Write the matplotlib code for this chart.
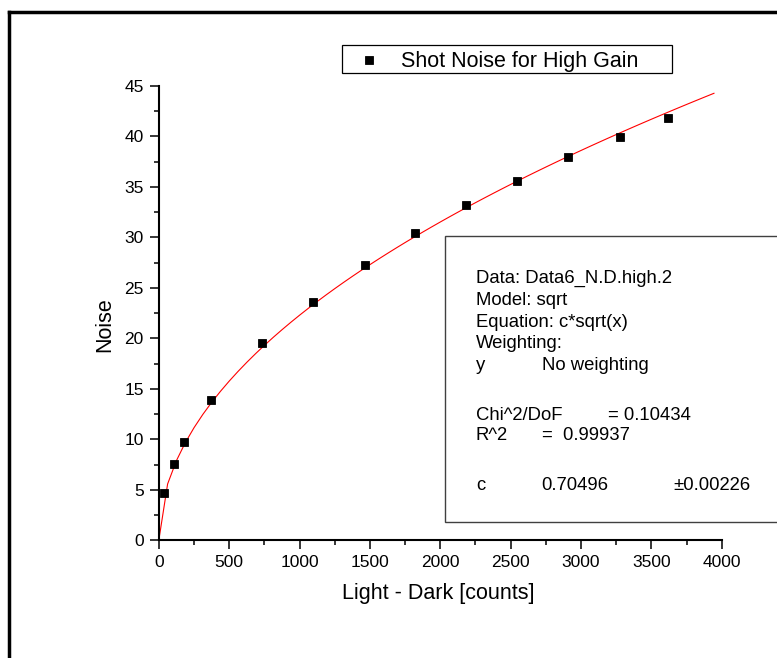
import numpy as np
import matplotlib
matplotlib.use("Agg")
import matplotlib.pyplot as plt
from matplotlib.lines import Line2D
from matplotlib.patches import Rectangle
from matplotlib.ticker import MultipleLocator

# Measured shot noise (high gain)
light_minus_dark = [35, 111, 182, 369, 730, 1096, 1463, 1819, 2183, 2544, 2908, 3277, 3621]
noise = [4.65, 7.59, 9.77, 13.87, 19.57, 23.61, 27.24, 30.41, 33.25, 35.59, 37.94, 39.98, 41.86]

# Fit result: noise = c * sqrt(x)
fit_c = 0.70496
fit_c_err = 0.00226
fit_chi2_dof = 0.10434
fit_r2 = 0.99937
fit_x_max = 3945

series_label = "Shot Noise for High Gain"
x_label = "Light - Dark [counts]"
y_label = "Noise"

plt.rcParams["font.family"] = ["Liberation Sans", "DejaVu Sans"]

W, H = 777, 658
fig = plt.figure(figsize=(W / 100, H / 100), dpi=100)
fig.patch.set_facecolor("white")


def fx(px):
    return px / W


def fy(py):
    return 1 - py / H


# axes box in pixel terms: left 158.8, right 721.7, top 86, bottom 540.3
ax = fig.add_axes([fx(158.8), fy(540.3), (721.7 - 158.8) / W, (540.3 - 86) / H])

fit_x = np.linspace(0, fit_x_max, 64)
fit_y = fit_c * np.sqrt(fit_x)
ax.plot(fit_x, fit_y, color="#ff0000", lw=0.8, zorder=2, clip_on=False)
ax.plot(light_minus_dark, noise, ls="none", marker="s", ms=6.3,
        mfc="black", mec="black", mew=0.6, zorder=3, clip_on=False)

ax.set_xlim(0, 4000)
ax.set_ylim(0, 45)
ax.xaxis.set_major_locator(MultipleLocator(500))
ax.xaxis.set_minor_locator(MultipleLocator(250))
ax.yaxis.set_major_locator(MultipleLocator(5))
ax.yaxis.set_minor_locator(MultipleLocator(2.5))

for side in ("top", "right"):
    ax.spines[side].set_visible(False)
for side in ("left", "bottom"):
    ax.spines[side].set_linewidth(1.5)
    ax.spines[side].set_color("black")

ax.tick_params(which="major", direction="out", length=6.8, width=1.1,
               labelsize=12.5, colors="black")
ax.tick_params(which="minor", direction="out", length=3.6, width=1.1)
ax.tick_params(axis="y", which="major", pad=4)
ax.tick_params(axis="x", which="major", pad=3.5)

ax.set_xlabel(x_label, fontsize=15.5)
ax.set_ylabel(y_label, fontsize=15.5)
ax.xaxis.set_label_coords(0.497, -0.094)
ax.yaxis.set_label_coords(-0.077, 0.475)

# legend box
fig.add_artist(Rectangle((fx(341.7), fy(73.3)), (672.3 - 341.7) / W, (73.3 - 45) / H,
                         transform=fig.transFigure, facecolor="white",
                         edgecolor="black", lw=0.9, zorder=5))
fig.add_artist(Line2D([fx(369.3)], [fy(59.5)], transform=fig.transFigure, ls="none",
                      marker="s", ms=6.3, mfc="black", mec="black", mew=0.6, zorder=6))
fig.text(fx(400.7), fy(67.3), series_label, fontsize=15.5, ha="left", va="baseline", zorder=6)

# fit report box
fig.add_artist(Rectangle((fx(445), fy(521.7)), (800 - 445) / W, (521.7 - 236) / H,
                         transform=fig.transFigure, facecolor="white",
                         edgecolor="#404040", lw=1.0, zorder=5, clip_on=False))

fs_box = 13.3
report = [
    (476, 283.3, "Data: Data6_N.D.high.2"),
    (476, 305.0, "Model: sqrt"),
    (476, 326.7, "Equation: c*sqrt(x)"),
    (476, 348.3, "Weighting:"),
    (476, 370.5, "y"),
    (541.7, 370.5, "No weighting"),
    (476, 419.5, "Chi^2/DoF"),
    (608.3, 419.5, f"= {fit_chi2_dof:.5f}"),
    (476, 439.5, "R^2"),
    (542.3, 439.5, f"=  {fit_r2:.5f}"),
    (476, 489.5, "c"),
    (541.7, 489.5, f"{fit_c:.5f}"),
    (673.3, 489.5, f"\u00b1{fit_c_err:.5f}"),
]
for px, py, s in report:
    fig.text(fx(px), fy(py), s, fontsize=fs_box, ha="left", va="baseline", zorder=6)

# outer frame (left and top edges)
frame_lw = 2.5
fig.add_artist(Line2D([fx(9.3), fx(9.3)], [0, fy(11.7)], transform=fig.transFigure,
                      color="black", lw=frame_lw, solid_capstyle="projecting"))
fig.add_artist(Line2D([fx(9.3), 1], [fy(11.7), fy(11.7)], transform=fig.transFigure,
                      color="black", lw=frame_lw, solid_capstyle="projecting"))

fig.savefig("out.png", dpi=100)
